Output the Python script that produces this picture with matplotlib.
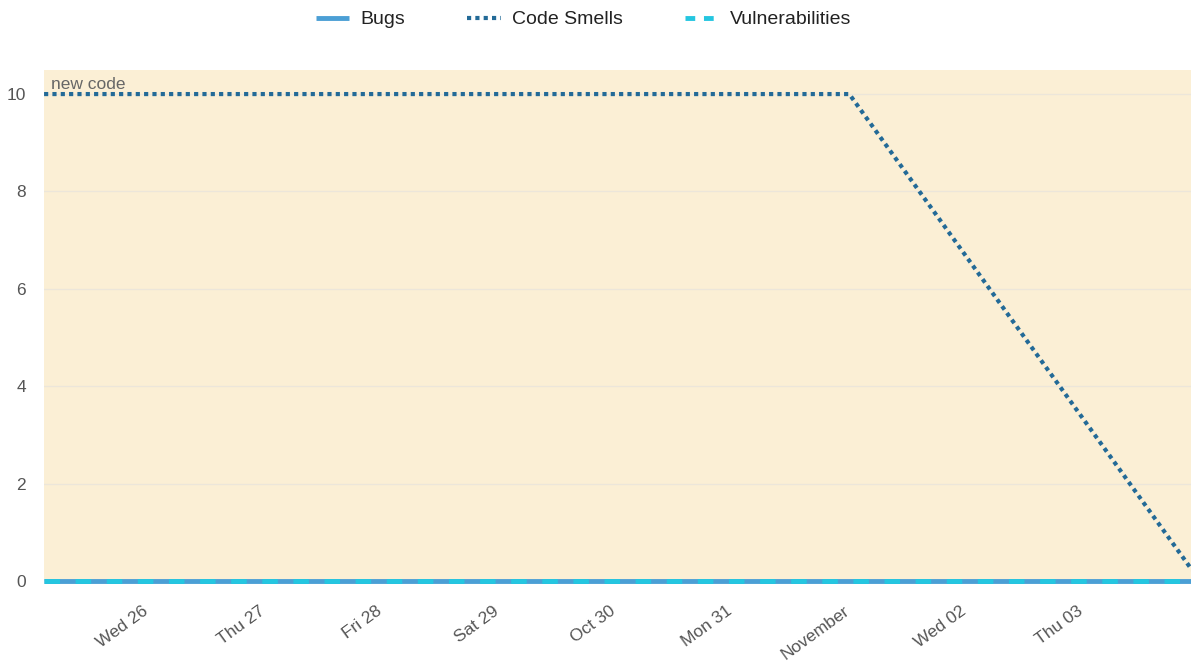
import numpy as np
import matplotlib.pyplot as plt
import matplotlib.transforms as mtransforms
from matplotlib.lines import Line2D
import pandas as pd

plt.rcParams['font.family'] = ['Liberation Sans', 'DejaVu Sans']

# data
dates = pd.to_datetime(["2022-10-25 02:40", "2022-11-01 00:00", "2022-11-04 00:00"])
bugs = [0, 0, 0]
code_smells = [10, 10, 0]
vulnerabilities = [0, 0, 0]

tick_dates = pd.to_datetime(["2022-10-26", "2022-10-27", "2022-10-28", "2022-10-29", "2022-10-30",
                             "2022-10-31", "2022-11-01", "2022-11-02", "2022-11-03"])
tick_labels = ["Wed 26", "Thu 27", "Fri 28", "Sat 29", "Oct 30", "Mon 31", "November", "Wed 02", "Thu 03"]

c_bugs = "#4b9fd5"
c_smells = "#236a97"
c_vuln = "#24c6e0"

fig = plt.figure(figsize=(11.91, 6.64), dpi=100)
ax = fig.add_axes([0.037, 0.125, 0.963, 0.77])
ax.set_facecolor("#fbefd5")

xmin = pd.Timestamp("2022-10-25 02:40")
xmax = pd.Timestamp("2022-11-03 22:10")

ax.plot(dates, bugs, color=c_bugs, lw=3.5, solid_capstyle="butt", clip_on=False, zorder=3)
ax.plot(dates, code_smells, color=c_smells, lw=3, ls=(0, (1, 1)), zorder=4)
ax.plot(dates, vulnerabilities, color=c_vuln, lw=3.5, ls=(0, (3.2, 3.2)), clip_on=False, zorder=5)

ax.set_xlim(xmin, xmax)
ax.set_ylim(0, 10.5)
ax.set_yticks([0, 2, 4, 6, 8, 10])
ax.set_xticks(tick_dates)
ax.set_xticklabels(tick_labels, rotation=36, ha="right", rotation_mode="anchor")
ax.tick_params(axis="both", length=0, labelsize=12.5, colors="#555555")
ax.tick_params(axis="x", pad=16)
ax.tick_params(axis="y", pad=13)
shift = mtransforms.ScaledTranslation(-6 / 100, 0, fig.dpi_scale_trans)
for lab in ax.get_xticklabels():
    lab.set_transform(lab.get_transform() + shift)
ax.grid(axis="y", color="#ece6da", lw=1)
ax.set_axisbelow(True)
for s in ax.spines.values():
    s.set_visible(False)

ax.text(0.006, 0.985, "new code", transform=ax.transAxes, ha="left", va="top",
        fontsize=12.5, color="#666666")

handles = [
    Line2D([], [], color=c_bugs, lw=3.5, solid_capstyle="butt"),
    Line2D([], [], color=c_smells, lw=3, ls=(0, (1, 1))),
    Line2D([], [], color=c_vuln, lw=3.5, ls=(0, (2, 1.8))),
]
fig.legend(handles, ["Bugs", "Code Smells", "Vulnerabilities"], loc="upper center",
           bbox_to_anchor=(0.49, 1.01), ncol=3, frameon=False, labelcolor="#222222",
           fontsize=14, handlelength=1.7, columnspacing=3.2, handletextpad=0.6)

fig.savefig("out.png", dpi=100, facecolor="white")
